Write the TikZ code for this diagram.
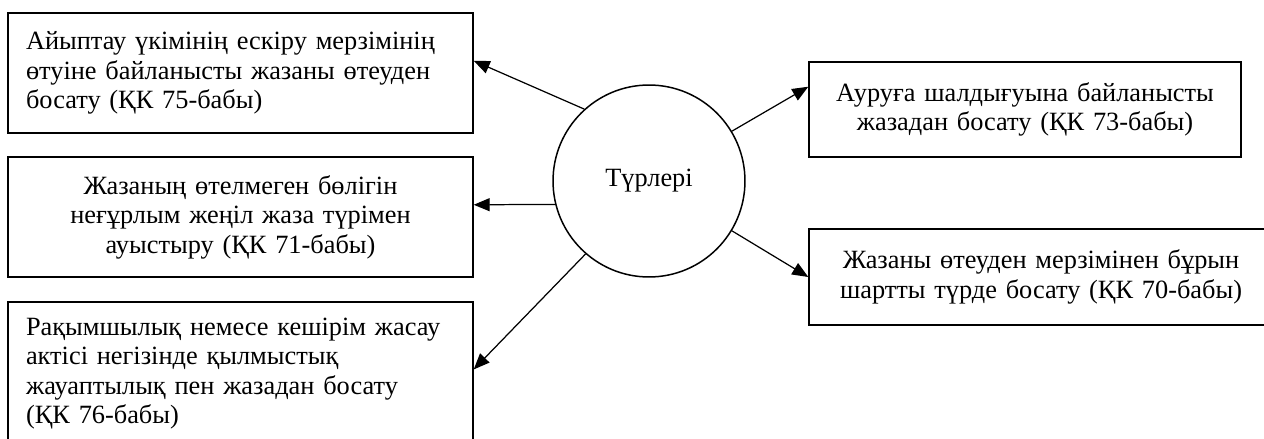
\documentclass[tikz,border=0pt]{standalone}
\usepackage{fontspec}
\setmainfont{Liberation Serif}
\usetikzlibrary{arrows.meta}

\tikzset{
  box/.style={draw, line width=0.85pt, inner xsep=0.36cm, inner ysep=0pt,
    font=\fontsize{15}{16.8}\selectfont},
  arr/.style={line width=0.7pt, -{Triangle[length=0.32cm, width=0.26cm]}}
}

\begin{document}
\begin{tikzpicture}[x=0.02cm, y=-0.02cm]
  \useasboundingbox (0,0) rectangle (1264,439);
  \node[circle, draw, line width=0.85pt, minimum size=3.84cm,
    font=\fontsize{15}{16.8}\selectfont] (tur) at (649,181) {Түрлері};
  \node[box, minimum width=9.3cm, minimum height=2.4cm, text width=8.58cm, align=left]
    (b1) at (240.5,73) {Айыптау үкімінің ескіру мерзімінің\\ өтуіне байланысты жазаны өтеуден\\ босату (ҚК 75-бабы)};
  \node[box, minimum width=9.3cm, minimum height=2.4cm, text width=8.58cm, align=center]
    (b2) at (240.5,217) {Жазаның өтелмеген бөлігін\\ неғұрлым жеңіл жаза түрімен\\ ауыстыру (ҚК 71-бабы)};
  \node[box, minimum width=9.3cm, minimum height=2.86cm, text width=8.58cm, align=left]
    (b3) at (240.5,373.5) {Рақымшылық немесе кешірім жасау\\ актісі негізінде қылмыстық\\ жауаптылық пен жазадан босату\\ (ҚК 76-бабы)};
  \node[box, minimum width=8.64cm, minimum height=1.9cm, text width=7.92cm, align=center]
    (r1) at (1025,109.5) {Ауруға шалдығуына байланысты\\ жазадан босату (ҚК 73-бабы)};
  \node[box, minimum width=9.28cm, minimum height=1.92cm, text width=8.56cm, align=center]
    (r2) at (1041,277) {Жазаны өтеуден мерзімінен бұрын\\ шартты түрде босату (ҚК 70-бабы)};
  \draw[arr] (tur.132) -- (b1.3);
  \draw[arr] (tur.194) -- (b2.3);
  \draw[arr] (tur.229) -- (b3.1);
  \draw[arr] (tur.31) -- (r1.174);
  \draw[arr] (tur.329) -- (r2.west);
\end{tikzpicture}
\end{document}
